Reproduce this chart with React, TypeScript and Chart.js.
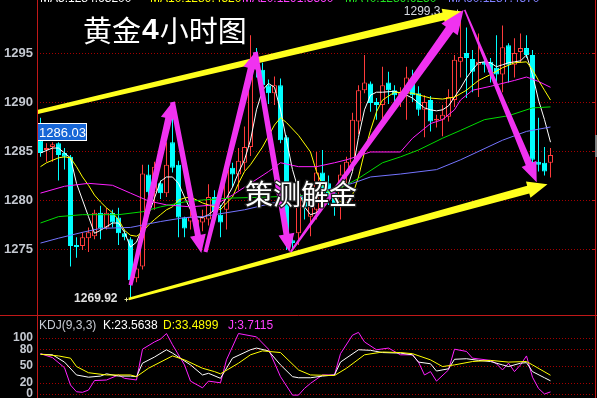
import React, { useEffect, useRef } from 'react';
import { Chart, registerables } from 'chart.js';

Chart.register(...registerables);

// ---------- data ----------
const SLOTS = 93; // candle slots across the panel (86 candles + empty room on the right)

const opens = [
  1286.1, 1285.1, 1285.4, 1285.8, 1284.8, 1284.4, 1275.4, 1275.3, 1276.1, 1276.3,
  1278.7, 1277.2, 1278.7, 1278.2, 1276.6, 1276.0, 1272.0, 1273.2, 1282.6, 1280.8,
  1281.7, 1280.7, 1285.9, 1283.6, 1278.2, 1277.8, 1277.3, 1277.7, 1278.0, 1280.3,
  1278.5, 1279.0, 1283.3, 1282.6, 1283.8, 1285.4, 1294.5, 1293.3, 1291.7, 1290.9,
  1291.7, 1286.4, 1275.9, 1276.6, 1280.3, 1278.3, 1279.0, 1282.8, 1281.7, 1280.7,
  1279.5, 1282.6, 1283.8, 1288.0, 1291.2, 1291.9, 1290.0, 1289.7, 1292.0, 1291.2,
  1290.7, 1291.0, 1292.0, 1290.9, 1289.2, 1290.2, 1288.1, 1288.2, 1288.5, 1290.2,
  1294.1, 1295.0, 1294.4, 1293.8, 1294.1, 1294.1, 1293.5, 1292.8, 1295.8, 1293.8,
  1295.1, 1295.5, 1294.8, 1283.9, 1283.8, 1283.8,
];
const highs = [
  1288.4, 1285.8, 1285.9, 1285.9, 1285.3, 1284.6, 1276.2, 1276.7, 1277.2, 1279.0,
  1279.4, 1279.2, 1279.0, 1279.2, 1277.0, 1276.2, 1273.5, 1283.6, 1283.6, 1283.9,
  1282.0, 1285.9, 1288.4, 1284.0, 1278.3, 1279.5, 1278.5, 1279.0, 1281.6, 1281.0,
  1279.5, 1284.0, 1283.8, 1285.3, 1287.5, 1296.8, 1295.5, 1294.0, 1292.3, 1292.6,
  1292.4, 1286.6, 1276.3, 1281.2, 1281.0, 1281.5, 1284.9, 1285.1, 1282.5, 1281.3,
  1283.6, 1284.4, 1288.9, 1291.7, 1294.8, 1292.1, 1290.4, 1293.6, 1293.1, 1291.7,
  1291.5, 1293.6, 1293.3, 1291.6, 1290.7, 1290.6, 1288.7, 1289.7, 1291.3, 1294.8,
  1299.3, 1297.6, 1295.3, 1297.0, 1294.5, 1294.5, 1296.8, 1297.8, 1296.0, 1296.5,
  1297.0, 1296.8, 1295.3, 1288.4, 1285.4, 1285.3,
];
const lows = [
  1284.4, 1283.9, 1283.9, 1282.0, 1283.1, 1273.2, 1274.1, 1274.9, 1274.7, 1276.0,
  1276.0, 1277.0, 1277.2, 1275.4, 1275.9, 1269.92, 1271.6, 1272.9, 1280.3, 1279.0,
  1280.1, 1280.3, 1282.8, 1276.2, 1276.2, 1277.0, 1276.5, 1276.8, 1277.4, 1277.8,
  1276.2, 1277.0, 1281.3, 1281.0, 1283.0, 1284.5, 1292.5, 1290.5, 1289.8, 1289.7,
  1285.8, 1274.9, 1275.0, 1275.4, 1278.0, 1276.3, 1278.0, 1280.0, 1279.5, 1278.4,
  1278.0, 1281.5, 1283.0, 1286.7, 1290.9, 1289.0, 1288.2, 1287.6, 1289.8, 1289.8,
  1289.5, 1288.2, 1290.0, 1288.6, 1286.4, 1287.0, 1287.4, 1286.5, 1288.0, 1289.5,
  1292.5, 1290.4, 1291.0, 1290.5, 1293.0, 1292.0, 1292.0, 1291.0, 1292.0, 1292.5,
  1294.0, 1294.5, 1283.5, 1282.9, 1282.5, 1282.3,
];
const closes = [
  1284.8, 1285.3, 1285.7, 1284.6, 1284.4, 1275.3, 1275.2, 1276.2, 1276.7, 1278.7,
  1277.1, 1278.7, 1277.7, 1276.6, 1276.2, 1271.8, 1273.0, 1282.7, 1280.8, 1283.4,
  1280.7, 1283.6, 1283.3, 1278.2, 1277.1, 1278.3, 1278.0, 1278.2, 1280.3, 1278.8,
  1277.7, 1283.1, 1282.6, 1284.0, 1285.4, 1294.3, 1293.6, 1291.7, 1290.9, 1291.7,
  1286.1, 1275.6, 1275.6, 1280.3, 1279.3, 1280.7, 1282.8, 1280.7, 1280.3, 1279.3,
  1282.6, 1283.9, 1288.2, 1291.2, 1292.0, 1289.9, 1289.7, 1291.7, 1291.2, 1290.7,
  1291.0, 1292.5, 1290.7, 1289.2, 1290.0, 1288.0, 1288.3, 1288.7, 1290.5, 1294.3,
  1294.6, 1294.5, 1293.1, 1294.1, 1293.8, 1293.0, 1292.8, 1295.6, 1293.8, 1295.0,
  1295.5, 1294.8, 1284.1, 1283.6, 1282.9, 1284.6,
];

// moving averages, read as [candle index, price]
const ma5: [number, number][] = [
  [0, 1284.8], [2, 1285.3], [3, 1285.3], [4, 1284.8], [5, 1284.3], [6, 1281.7], [8, 1278.3],
  [9, 1276.6], [10, 1276.9], [12, 1277.65], [13, 1277.65], [14, 1276.7], [15, 1275.2], [16, 1275.7],
  [17, 1277.2], [18, 1278.5], [19, 1280.2], [20, 1281.9], [21, 1282.35], [22, 1282.35], [23, 1281.7],
  [24, 1280.3], [25, 1279.0], [26, 1278.3], [27, 1278.2], [28, 1278.5], [29, 1279.0], [30, 1279.3],
  [31, 1280.2], [32, 1281.3], [33, 1282.8], [34, 1284.1], [35, 1286.1], [36, 1289.2], [37, 1291.2],
  [38, 1291.9], [39, 1291.5], [40, 1289.2], [41, 1286.1], [42, 1283.1], [43, 1281.0], [44, 1279.3],
  [45, 1278.5], [46, 1278.7], [47, 1279.5], [48, 1280.2], [49, 1280.3], [50, 1280.5], [51, 1281.0],
  [52, 1282.9], [53, 1286.4], [54, 1289.2], [55, 1290.7], [56, 1291.0], [57, 1291.0], [59, 1291.1],
  [61, 1290.7], [62, 1290.4], [63, 1289.9], [64, 1289.4], [65, 1289.2], [66, 1289.1], [67, 1289.2],
  [68, 1289.6], [69, 1290.5], [70, 1291.4], [71, 1292.45], [72, 1293.3], [73, 1294.0], [74, 1294.1],
  [75, 1294.0], [76, 1293.6], [77, 1293.8], [78, 1294.0], [79, 1294.1], [80, 1294.2], [81, 1294.8],
  [82, 1292.8], [83, 1290.2], [84, 1288.2], [85, 1285.9],
];
const ma10: [number, number][] = [
  [0, 1283.4], [1, 1283.8], [3, 1284.3], [4, 1284.4], [5, 1284.3], [6, 1283.4], [7, 1282.35],
  [8, 1281.5], [9, 1280.5], [10, 1279.8], [11, 1279.2], [12, 1278.7], [13, 1278.0], [14, 1276.9],
  [15, 1276.4], [16, 1276.3], [17, 1276.7], [18, 1277.45], [19, 1278.0], [20, 1278.5], [21, 1279.0],
  [22, 1279.3], [23, 1280.0], [24, 1280.2], [25, 1280.3], [27, 1279.7], [29, 1279.3], [30, 1279.0],
  [31, 1279.7], [32, 1280.3], [33, 1281.7], [34, 1282.9], [35, 1283.6], [37, 1285.4], [39, 1287.65],
  [40, 1288.4], [41, 1287.9], [43, 1286.6], [45, 1284.9], [46, 1282.9], [47, 1281.5], [48, 1280.8],
  [49, 1280.0], [51, 1279.7], [52, 1280.5], [53, 1282.35], [54, 1284.9], [55, 1287.1], [56, 1289.0],
  [57, 1290.2], [59, 1291.0], [62, 1290.9], [65, 1290.4], [67, 1290.3], [69, 1290.5], [71, 1291.2],
  [73, 1292.2], [75, 1292.8], [77, 1293.5], [79, 1294.0], [81, 1294.1], [82, 1293.3], [83, 1292.2],
  [84, 1291.2], [85, 1290.2],
];
const ma20: [number, number][] = [
  [0, 1280.7], [4, 1281.4], [8, 1281.7], [12, 1281.5], [15, 1280.7], [18, 1279.9], [21, 1279.5],
  [25, 1279.3], [29, 1279.5], [32, 1280.5], [35, 1281.7], [38, 1282.9], [40, 1283.8], [43, 1283.4],
  [46, 1283.4], [49, 1283.8], [51, 1284.1], [53, 1284.5], [55, 1284.9], [60, 1284.9], [62, 1286.3],
  [65, 1287.8], [67, 1288.2], [69, 1289.2], [70, 1290.2], [72, 1291.2], [75, 1291.6], [79, 1292.2],
  [81, 1292.55], [83, 1292.1], [85, 1291.5],
];
const ma40: [number, number][] = [
  [0, 1277.65], [3, 1278.3], [7, 1278.5], [13, 1278.5], [17, 1278.8], [20, 1279.3], [24, 1279.8],
  [27, 1280.0], [32, 1280.2], [38, 1280.3], [45, 1280.5], [50, 1281.2], [53, 1282.2], [57, 1283.8],
  [60, 1284.4], [63, 1285.1], [67, 1286.3], [70, 1287.1], [74, 1288.2], [78, 1288.6], [82, 1289.4],
  [85, 1289.5],
];
const ma60: [number, number][] = [
  [0, 1275.6], [3, 1276.1], [7, 1276.7], [10, 1277.1], [15, 1277.2], [20, 1277.8], [24, 1278.2],
  [27, 1278.3], [34, 1279.0], [43, 1280.3], [52, 1281.7], [55, 1282.35], [60, 1282.65], [66, 1283.1],
  [70, 1284.1], [77, 1286.1], [81, 1287.0], [85, 1287.45],
];

// KDJ(9,3,3), read as [candle index, value]
const kLine: [number, number][] = [
  [0, 71], [2, 70], [4, 57], [6, 34], [8, 30], [10, 32], [11, 36], [13, 32], [15, 32], [16, 31],
  [17, 55], [19, 66], [21, 79], [22, 73], [25, 52], [27, 34], [28, 37], [30, 28], [32, 64], [35, 79],
  [36, 82], [38, 77], [40, 52], [42, 31], [43, 29], [45, 29], [47, 32], [49, 34], [50, 57], [53, 79],
  [55, 78], [57, 74], [60, 73], [62, 70], [63, 57], [65, 54], [66, 41], [68, 45], [69, 62], [71, 63],
  [73, 60], [75, 58], [77, 52], [78, 49], [80, 55], [81, 56], [82, 40], [84, 29], [85, 23.5638],
];
const dLine: [number, number][] = [
  [0, 71], [3, 68], [5, 64], [6, 49], [8, 38], [11, 34], [15, 34], [16, 31], [18, 46], [22, 68],
  [24, 61], [27, 46], [29, 40], [30, 36], [33, 55], [35, 70], [37, 77], [40, 74], [43, 43], [45, 34],
  [49, 33], [51, 46], [54, 70], [57, 75], [60, 74], [62, 72], [65, 61], [67, 49], [69, 52], [72, 58],
  [75, 60], [78, 57], [81, 58], [82, 52], [85, 33.4899],
];
const jLine: [number, number][] = [
  [0, 72], [2, 65], [4, 47], [5, 16], [6, 4], [7, 3], [8, 7], [9, 24], [11, 25], [13, 34], [14, 28],
  [16, 25], [17, 80], [19, 93], [20, 98], [21, 108], [22, 88], [24, 52], [25, 23], [27, 11], [28, 23],
  [30, 20], [31, 61], [33, 108], [36, 102], [38, 80], [40, 31], [42, -2], [43, -2], [44, 10], [45, 19],
  [47, 34], [49, 34], [50, 72], [52, 105], [53, 110], [54, 93], [56, 79], [58, 82], [60, 70], [62, 70],
  [63, 57], [64, 34], [65, 40], [66, 23], [68, 43], [69, 80], [71, 76], [72, 64], [75, 60], [76, 54],
  [77, 43], [78, 55], [79, 40], [80, 52], [81, 68], [82, 30], [83, 10], [84, 0], [85, 3.7115],
];

const priceTicks = [1275, 1280, 1285, 1290, 1295];
const kdjTicks = [0, 20, 50, 80, 100];
const priceRange = [1268.16, 1300.41];
const kdjRange = [-7.14, 139.29];

// annotation arrows, in [candle index, price]
const channelArrows: [[number, number], [number, number]][] = [
  [[-0.5, 1288.98], [70.4, 1299.2]],
  [[14.7, 1269.9], [84.5, 1281.6]],
];
const swingArrows: [[number, number], [number, number]][] = [
  [[15, 1271.3], [22, 1290.0]],
  [[22, 1290.0], [26.8, 1274.6]],
  [[27.5, 1274.7], [35.8, 1295.1]],
  [[35.8, 1295.1], [41.5, 1274.7]],
  [[41.7, 1274.7], [70.5, 1299.4]],
  [[70.7, 1299.4], [82.7, 1281.8]],
];

const highMark = { index: 70, price: 1299.3, label: '1299.3' };
const lowMark = { index: 15, price: 1269.92, label: '1269.92' };
const cursorMark = { price: 1286.94, label: '1286.03' };
const kdjHeader = ['KDJ(9,3,3)', 'K:23.5638', 'D:33.4899', 'J:3.7115'];
const maHeader = ['MA5:1284.63200', 'MA10:1289.4520', 'MA20:1291.3560', 'MA40:1289.6250', 'MA60:1287.4570'];

// ---------- styles ----------
const RED = '#ff3c3c';
const CYAN = '#00ffff';
const YELLOW = '#ffff1e';
const MAGENTA = '#f032f0';
const FRAME = '#c01818';
const GRID = '#a40000';
const AXIS_TXT = '#c4c8d0';
const LEFT = 37;

const channelStyle = [
  [4, 8, 16, 20],
  [2.5, 8, 17, 20],
];
const swingStyle = [
  [4, 7, 16, 17],
  [5, 6, 16, 18],
  [4, 7, 16, 17],
  [5, 6, 16, 18],
  [2, 9, 20, 24],
  [1.5, 7, 16, 20],
];

function drawArrow(
  ctx: CanvasRenderingContext2D, x0: number, y0: number, x1: number, y1: number,
  w0: number, w1: number, headW: number, headL: number, color: string,
) {
  const dx = x1 - x0, dy = y1 - y0;
  const len = Math.hypot(dx, dy);
  const ux = dx / len, uy = dy / len;
  const nx = -uy, ny = ux;
  const bx = x1 - ux * headL, by = y1 - uy * headL;
  ctx.beginPath();
  ctx.moveTo(x0 + nx * w0 / 2, y0 + ny * w0 / 2);
  ctx.lineTo(bx + nx * w1 / 2, by + ny * w1 / 2);
  ctx.lineTo(bx + nx * headW / 2, by + ny * headW / 2);
  ctx.lineTo(x1, y1);
  ctx.lineTo(bx - nx * headW / 2, by - ny * headW / 2);
  ctx.lineTo(bx - nx * w1 / 2, by - ny * w1 / 2);
  ctx.lineTo(x0 - nx * w0 / 2, y0 - ny * w0 / 2);
  ctx.closePath();
  ctx.fillStyle = color;
  ctx.fill();
}

function dottedGrid(chart: any, ticks: number[]) {
  const { ctx, chartArea, scales } = chart;
  ctx.save();
  ctx.strokeStyle = GRID;
  ctx.lineWidth = 1;
  ctx.setLineDash([1, 2]);
  ticks.forEach((v) => {
    const py = Math.round(scales.y.getPixelForValue(v)) + 0.5;
    ctx.beginPath();
    ctx.moveTo(chartArea.left, py);
    ctx.lineTo(chartArea.right, py);
    ctx.stroke();
  });
  ctx.restore();
}

function vLine(ctx: CanvasRenderingContext2D, x: number, y0: number, y1: number, color: string) {
  ctx.strokeStyle = color;
  ctx.lineWidth = 1;
  ctx.beginPath();
  ctx.moveTo(x, y0);
  ctx.lineTo(x, y1);
  ctx.stroke();
}

const mainDecor = {
  id: 'mainDecor',
  beforeDatasetsDraw(chart: any) {
    dottedGrid(chart, priceTicks);
  },
  afterDatasetsDraw(chart: any) {
    const { ctx, scales } = chart;
    const px = (i: number) => scales.x.getPixelForValue(i);
    const py = (v: number) => scales.y.getPixelForValue(v);
    ctx.save();

    // high / low labels
    ctx.textBaseline = 'middle';
    ctx.textAlign = 'right';
    ctx.font = '12px "Liberation Sans"';
    ctx.fillStyle = '#d8dce4';
    ctx.fillText(highMark.label, px(highMark.index) - 20, py(highMark.price) + 1);
    ctx.font = 'bold 12px "Liberation Sans"';
    ctx.fillStyle = '#e0e0e0';
    ctx.fillText(lowMark.label, px(lowMark.index) - 13, py(lowMark.price));
    ctx.strokeStyle = '#e8e8a0';
    ctx.lineWidth = 1;
    const lx = Math.round(px(lowMark.index) - 4) + 0.5, ly = Math.round(py(lowMark.price)) + 0.5;
    ctx.beginPath();
    ctx.moveTo(lx - 2, ly); ctx.lineTo(lx + 2, ly);
    ctx.moveTo(lx, ly - 2); ctx.lineTo(lx, ly + 2);
    ctx.stroke();
    const hx = Math.round(px(highMark.index) - 3) + 0.5, hy = Math.round(py(highMark.price)) + 0.5;
    ctx.strokeStyle = '#c0c0c0';
    ctx.beginPath();
    ctx.moveTo(hx - 2, hy); ctx.lineTo(hx + 2, hy);
    ctx.moveTo(hx, hy - 2); ctx.lineTo(hx, hy + 2);
    ctx.stroke();

    // channel arrows (yellow) then swing arrows (magenta)
    channelArrows.forEach(([[a, b], [c, d]], k) => {
      const [w0, w1, hw, hl] = channelStyle[k];
      drawArrow(ctx, px(a), py(b), px(c), py(d), w0, w1, hw, hl, YELLOW);
    });
    swingArrows.forEach(([[a, b], [c, d]], k) => {
      const [w0, w1, hw, hl] = swingStyle[k];
      drawArrow(ctx, px(a), py(b), px(c), py(d), w0, w1, hw, hl, MAGENTA);
    });

    // title
    ctx.textAlign = 'left';
    ctx.textBaseline = 'middle';
    ctx.fillStyle = '#ffffff';
    let tx = 83;
    const ty = 31;
    const titleParts: [string, string][] = [
      ['黄金', '29px "Noto Sans CJK SC"'],
      ['4', 'bold 30px "Liberation Sans"'],
      ['小时图', '29px "Noto Sans CJK SC"'],
    ];
    titleParts.forEach(([t, f]) => {
      ctx.font = f;
      ctx.fillText(t, tx, ty);
      tx += ctx.measureText(t).width + 1;
    });

    // watermark text
    ctx.font = '28px "Noto Sans CJK SC"';
    ctx.lineWidth = 2.5;
    ctx.strokeStyle = '#202020';
    ctx.strokeText('策测解金', 245, 194);
    ctx.fillStyle = '#ffffff';
    ctx.fillText('策测解金', 245, 194);

    // cursor price box
    const cy = Math.round(py(cursorMark.price));
    ctx.fillStyle = '#1766d6';
    ctx.fillRect(LEFT, cy - 9, 50, 18);
    ctx.strokeStyle = '#ffffff';
    ctx.lineWidth = 1;
    ctx.strokeRect(LEFT + 0.5, cy - 8.5, 49, 17);
    ctx.fillStyle = '#ffffff';
    ctx.font = '13px "Liberation Sans"';
    ctx.fillText(cursorMark.label, LEFT + 2, cy + 1);
    ctx.restore();
  },
  afterDraw(chart: any) {
    const { ctx, width, height } = chart;
    ctx.save();
    // frame lines
    vLine(ctx, LEFT + 0.5, 0, height, FRAME);
    vLine(ctx, width - 1.5, 0, height, FRAME);
    ctx.strokeStyle = FRAME;
    ctx.beginPath();
    ctx.moveTo(0, height - 0.5);
    ctx.lineTo(width, height - 0.5);
    ctx.stroke();
    // right side small ticks
    priceTicks.forEach((v) => {
      const y = Math.round(chart.scales.y.getPixelForValue(v)) + 0.5;
      ctx.beginPath();
      ctx.moveTo(width - 5, y);
      ctx.lineTo(width - 1.5, y);
      ctx.stroke();
    });
    ctx.fillStyle = '#808080';
    ctx.fillRect(width - 2, 135, 2, 22);
    // clipped MA header row
    ctx.font = '12px "Liberation Sans"';
    ctx.textBaseline = 'alphabetic';
    ctx.textAlign = 'left';
    const cols = ['#ffffff', '#ffff00', '#ff40ff', '#20e020', '#8080ff'];
    const xs = [40, 150, 242, 345, 448];
    maHeader.forEach((t, i) => {
      ctx.fillStyle = cols[i];
      ctx.fillText(t, xs[i], 2);
    });
    ctx.restore();
  },
};

const kdjDecor = {
  id: 'kdjDecor',
  beforeDatasetsDraw(chart: any) {
    dottedGrid(chart, kdjTicks);
  },
  afterDraw(chart: any) {
    const { ctx, width, height } = chart;
    ctx.save();
    vLine(ctx, LEFT + 0.5, 0, height, FRAME);
    vLine(ctx, width - 1.5, 0, height, FRAME);
    ctx.font = '12px "Liberation Sans"';
    ctx.textBaseline = 'middle';
    ctx.textAlign = 'left';
    const cols = ['#c8ccd4', '#ffffff', '#ffff00', '#ff40ff'];
    const xs = [39, 103, 163, 228];
    kdjHeader.forEach((t, i) => {
      ctx.fillStyle = cols[i];
      ctx.fillText(t, xs[i], 10);
    });
    ctx.restore();
  },
};

const xScale = {
  type: 'linear' as const,
  min: -0.5833,
  max: SLOTS - 0.5833,
  offset: false,
  grid: { offset: false, display: false, drawTicks: false },
  display: false,
};

function yScale(range: number[], ticks: number[], size: number) {
  return {
    type: 'linear' as const,
    position: 'left' as const,
    min: range[0],
    max: range[1],
    afterFit: (s: any) => {
      s.width = LEFT;
      s.paddingTop = 0;
      s.paddingBottom = 0;
    },
    afterBuildTicks: (s: any) => {
      s.ticks = ticks.map((v) => ({ value: v }));
    },
    ticks: {
      color: AXIS_TXT,
      padding: 4,
      autoSkip: false,
      font: { family: 'Liberation Sans', size, weight: 'bold' as const },
      callback: (v: any) => String(v),
    },
    grid: { display: false, drawTicks: false, tickLength: 0 },
    border: { display: false },
  };
}

const lineDs = (pts: [number, number][], color: string) => ({
  type: 'line' as const,
  data: pts.map(([x, y]) => ({ x, y })),
  borderColor: color,
  borderWidth: 1,
  pointRadius: 0,
  tension: 0,
  fill: false,
  order: 0,
});

export default function App() {
  const mainRef = useRef<HTMLCanvasElement>(null);
  const kdjRef = useRef<HTMLCanvasElement>(null);

  useEffect(() => {
    document.body.style.margin = '0';
    document.body.style.background = '#000';
    const up = closes.map((c, i) => c >= opens[i]);

    const main = new Chart(mainRef.current as HTMLCanvasElement, {
      type: 'bar',
      data: {
        datasets: [
          {
            type: 'bar',
            data: highs.map((h, i) => ({ x: i, y: [lows[i], h] })) as any,
            backgroundColor: up.map((u) => (u ? RED : CYAN)),
            borderWidth: 0,
            barThickness: 1,
            grouped: false,
            inflateAmount: 0,
            order: 3,
          } as any,
          {
            type: 'bar',
            data: opens.map((o, i) => ({ x: i, y: [o, closes[i]] })) as any,
            backgroundColor: up.map((u) => (u ? '#000000' : CYAN)),
            borderColor: up.map((u) => (u ? RED : CYAN)),
            borderWidth: 1,
            borderSkipped: false,
            barThickness: 5,
            grouped: false,
            inflateAmount: 0,
            order: 2,
          } as any,
          lineDs(ma60, '#7474ff'),
          lineDs(ma40, '#00dc00'),
          lineDs(ma20, '#ff20ff'),
          lineDs(ma10, '#ffff00'),
          lineDs(ma5, '#ffffff'),
        ],
      },
      options: {
        animation: false,
        responsive: false,
        devicePixelRatio: 1,
        events: [],
        layout: { padding: { left: 0, right: 2, top: 0, bottom: 0 } },
        plugins: { legend: { display: false }, tooltip: { enabled: false } },
        scales: { x: xScale, y: yScale(priceRange, priceTicks, 13) as any },
      },
      plugins: [mainDecor],
    } as any);

    const kdj = new Chart(kdjRef.current as HTMLCanvasElement, {
      type: 'line',
      data: {
        datasets: [
          lineDs(dLine, '#ffff00'),
          lineDs(kLine, '#ffffff'),
          lineDs(jLine, '#ff20ff'),
        ],
      },
      options: {
        animation: false,
        responsive: false,
        devicePixelRatio: 1,
        events: [],
        layout: { padding: { left: 0, right: 2, top: 0, bottom: 0 } },
        plugins: { legend: { display: false }, tooltip: { enabled: false } },
        scales: { x: xScale, y: yScale(kdjRange, kdjTicks, 12) as any },
      },
      plugins: [kdjDecor],
    } as any);

    return () => {
      main.destroy();
      kdj.destroy();
    };
  }, []);

  return (
    <div style={{ width: 597, height: 398, background: '#000', overflow: 'hidden' }}>
      <canvas ref={mainRef} width={597} height={316} style={{ display: 'block', width: 597, height: 316 }} />
      <canvas ref={kdjRef} width={597} height={82} style={{ display: 'block', width: 597, height: 82 }} />
    </div>
  );
}
